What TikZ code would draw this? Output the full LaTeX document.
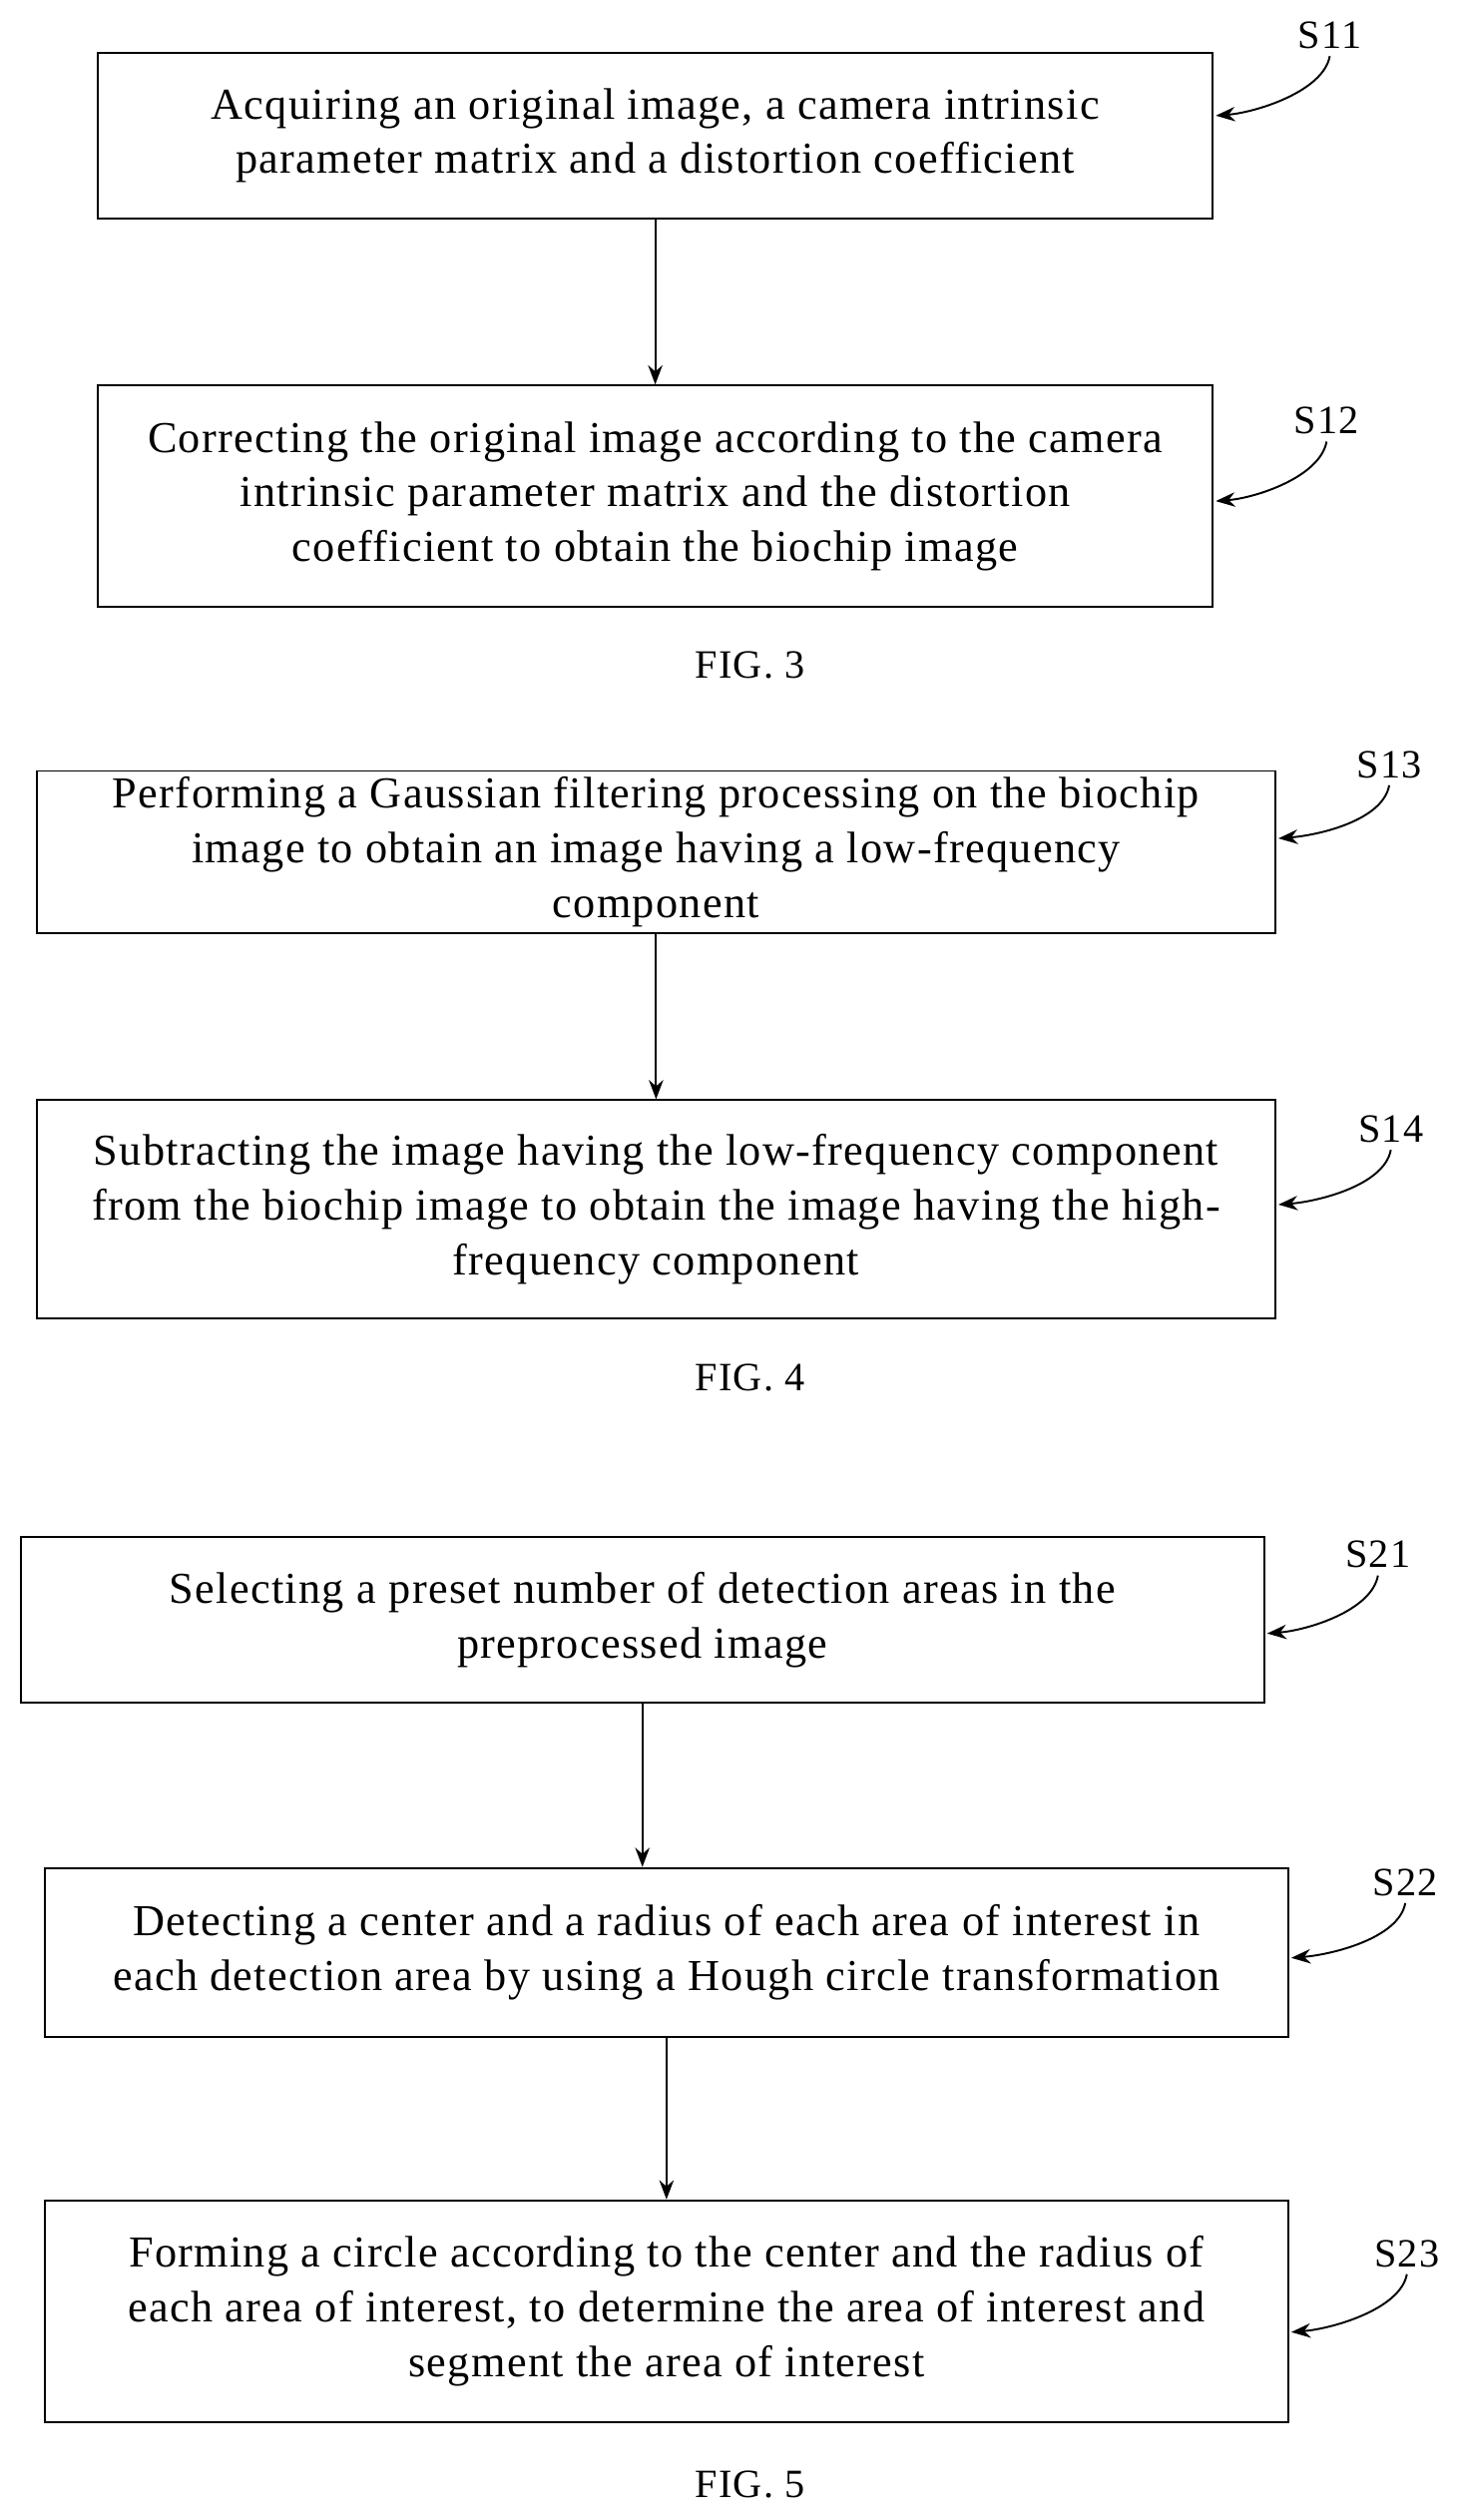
\documentclass[tikz,border=0pt]{standalone}
\usepackage{fontspec}
\setmainfont[LetterSpace=3]{Liberation Serif}
\usetikzlibrary{arrows.meta}
\begin{document}
\begin{tikzpicture}[x=1pt,y=-1pt,
  box/.style={draw,line width=1.2pt,align=center,font=\fontsize{27.5}{34}\selectfont,inner sep=0pt},
  lab/.style={font=\fontsize{25}{30}\selectfont},
  fig/.style={font=\fontsize{25}{30}\selectfont},
  arr/.style={-{Stealth[length=12pt,width=9pt]},line width=1.2pt},
  carr/.style={-{Stealth[length=12pt,width=9pt]},line width=1.2pt}]
\useasboundingbox (0,0) rectangle (908,1569);
\node[box,minimum width=694pt,minimum height=103pt] (b11) at (408,84.5) {Acquiring an original image, a camera intrinsic\\parameter matrix and a distortion coefficient};
\node[box,minimum width=694pt,minimum height=138pt] (b12) at (408,309) {Correcting the original image according to the camera\\intrinsic parameter matrix and the distortion\\coefficient to obtain the biochip image};
\node[fig] (f3) at (467,414) {FIG. 3};
\node[box,minimum width=771pt,minimum height=101pt] (b13) at (408.5,530.5) {Performing a Gaussian filtering processing on the biochip\\image to obtain an image having a low-frequency\\component};
\node[box,minimum width=771pt,minimum height=136pt] (b14) at (408.5,753) {Subtracting the image having the low-frequency component\\from the biochip image to obtain the image having the high-\\frequency component};
\node[fig] (f4) at (467,858) {FIG. 4};
\node[box,minimum width=774pt,minimum height=103pt] (b21) at (400,1008.5) {Selecting a preset number of detection areas in the\\preprocessed image};
\node[box,minimum width=774pt,minimum height=105pt] (b22) at (415,1215.5) {Detecting a center and a radius of each area of interest in\\each detection area by using a Hough circle transformation};
\node[box,minimum width=774pt,minimum height=138pt] (b23) at (415,1439) {Forming a circle according to the center and the radius of\\each area of interest, to determine the area of interest and\\segment the area of interest};
\node[fig] (f5) at (467,1547) {FIG. 5};
\draw[arr] (b11.south) -- (b12.north);
\draw[arr] (b13.south) -- (b14.north);
\draw[arr] (b21.south) -- (b21.south |- b22.north);
\draw[arr] (b22.south) -- (b23.north);
\node[lab] (l11) at (828,22) {S11};
\node[lab] (l12) at (826,262) {S12};
\node[lab] (l13) at (865,476) {S13};
\node[lab] (l14) at (866,703) {S14};
\node[lab] (l21) at (858,968) {S21};
\node[lab] (l22) at (875,1172) {S22};
\node[lab] (l23) at (876,1403) {S23};
\coordinate (e11) at (757,72); \coordinate (e12) at (757,312);
\coordinate (e13) at (796,522); \coordinate (e14) at (796,750);
\coordinate (e21) at (789,1017); \coordinate (e22) at (804,1219);
\coordinate (e23) at (804,1452);
\foreach \a in {11,12,13,14,21,22,23}{
  \draw[carr] ([yshift=-1pt]l\a.south) .. controls +(-4,22) and +(25,-2) .. (e\a);
}
\end{tikzpicture}
\end{document}
